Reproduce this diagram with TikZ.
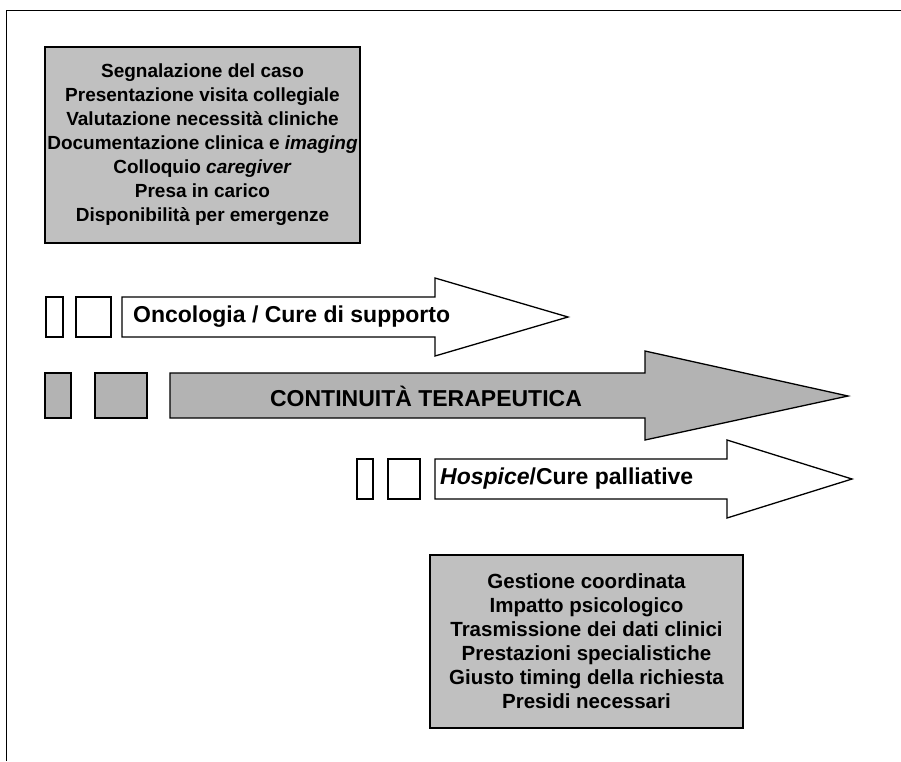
\documentclass[tikz,border=0pt]{standalone}
\usepackage{fontspec}
\setmainfont{Liberation Sans}
\definecolor{boxgray}{HTML}{C0C0C0}
\definecolor{arrowgray}{HTML}{B3B3B3}
\begin{document}
\begin{tikzpicture}[x=1pt,y=-1pt,
  outline/.style={draw=black,line width=1.3pt,line join=miter},
  infobox/.style={outline,fill=boxgray,inner sep=0pt,align=center},
  tab/.style={outline,inner sep=0pt},
  arrowtext/.style={inner sep=0pt,font=\fontsize{23}{28}\selectfont\bfseries},
  label/.style={arrowtext,anchor=west}]
\useasboundingbox (0,0) rectangle (901,761);
% page frame
\draw[line width=1.2pt] (6.5,761) -- (6.5,10.5) -- (901,10.5);

% activities at the start of the path
\node[infobox,minimum width=315pt,minimum height=196pt,
      font=\fontsize{19}{24}\selectfont\bfseries] (start) at (202.5,145)
  {Segnalazione del caso\\Presentazione visita collegiale\\Valutazione necessità cliniche\\
   Documentazione clinica e \textit{imaging}\\Colloquio \textit{caregiver}\\Presa in carico\\
   Disponibilità per emergenze};

% oncology / supportive care
\node[tab,fill=white,minimum width=17pt,minimum height=40pt] (o1) at (54.5,317) {};
\node[tab,fill=white,minimum width=35pt,minimum height=40pt] (o2) at (93.5,317) {};
\draw[outline,fill=white] (122,297) -- (435,297) -- (435,278) -- (568,317)
  -- (435,356) -- (435,337) -- (122,337) -- cycle;
\node[label] (onc) at (133,317) {Oncologia / Cure di supporto};

% therapeutic continuity
\node[tab,fill=arrowgray,minimum width=26pt,minimum height=45pt] (c1) at (58,395.5) {};
\node[tab,fill=arrowgray,minimum width=52pt,minimum height=45pt] (c2) at (121,395.5) {};
\draw[outline,fill=arrowgray] (170,373) -- (645,373) -- (645,351) -- (848,396)
  -- (645,440) -- (645,418) -- (170,418) -- cycle;
\node[arrowtext] (cont) at (426,396) {CONTINUITÀ TERAPEUTICA};

% hospice / palliative care
\node[tab,fill=white,minimum width=16pt,minimum height=40pt] (h1) at (365,479) {};
\node[tab,fill=white,minimum width=32pt,minimum height=40pt] (h2) at (404,479) {};
\draw[outline,fill=white] (435,459) -- (727,459) -- (727,440) -- (852,479)
  -- (727,518) -- (727,499) -- (435,499) -- cycle;
\node[label] (hosp) at (440,479) {\textit{Hospice}/Cure palliative};

% issues at the end of the path
\node[infobox,minimum width=313pt,minimum height=173pt,
      font=\fontsize{20.5}{24}\selectfont\bfseries] (end) at (586.5,641.5)
  {Gestione coordinata\\Impatto psicologico\\Trasmissione dei dati clinici\\
   Prestazioni specialistiche\\Giusto timing della richiesta\\Presidi necessari};
\end{tikzpicture}
\end{document}
